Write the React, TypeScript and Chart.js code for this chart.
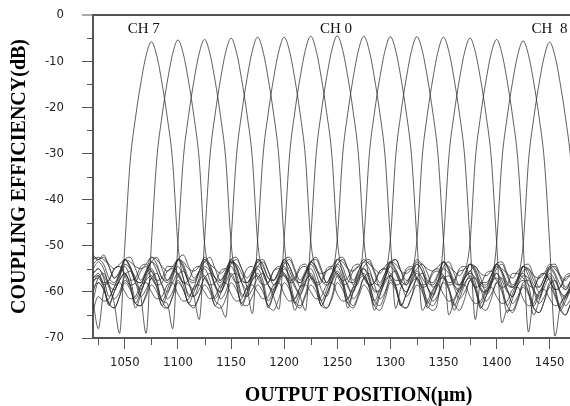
import { useEffect, useRef } from 'react';
import { Chart, registerables } from 'chart.js';

Chart.register(...registerables);

// x positions (µm)
const positions = [
  1020, 1025, 1030, 1035, 1040, 1045, 1050, 1055, 1060, 1065, 1070, 1075, 1080, 1085, 1090, 1095,
  1100, 1105, 1110, 1115, 1120, 1125, 1130, 1135, 1140, 1145, 1150, 1155, 1160, 1165, 1170, 1175,
  1180, 1185, 1190, 1195, 1200, 1205, 1210, 1215, 1220, 1225, 1230, 1235, 1240, 1245, 1250, 1255,
  1260, 1265, 1270, 1275, 1280, 1285, 1290, 1295, 1300, 1305, 1310, 1315, 1320, 1325, 1330, 1335,
  1340, 1345, 1350, 1355, 1360, 1365, 1370, 1375, 1380, 1385, 1390, 1395, 1400, 1405, 1410, 1415,
  1420, 1425, 1430, 1435, 1440, 1445, 1450, 1455, 1460, 1465, 1470, 1475, 1480,
];

const channelNames = [
  'CH 7', 'CH 6', 'CH 5', 'CH 4', 'CH 3', 'CH 2', 'CH 1', 'CH 0',
  'CH -1', 'CH -2', 'CH -3', 'CH -4', 'CH -5', 'CH -6', 'CH -7', 'CH -8',
];

const ch7 = [-56,
  -55, -56.5, -59, -62.5, -69,
  -49.8, -31.8, -22.3, -14.8, -8.8,
  -5.8, -8.8, -14.8, -22.3, -31.8,
  -49.8, -57, -60.5, -61, -58,
  -54.5, -55.5, -59, -60, -57.5,
  -53.5, -56, -60.5, -61, -57,
  -54.5, -55.5, -58.5, -59.5, -57.5,
  -55, -56.5, -59, -60.5, -58,
  -54, -56, -59.5, -61, -57.5,
  -54, -55.5, -59, -60, -57,
  -55, -56.5, -60, -59.5, -57,
  -54.5, -56, -58.5, -60, -57.5,
  -55.5, -57, -59, -61, -58,
  -55, -56, -58.5, -59.5, -57,
  -56, -57, -59.5, -60, -58.5,
  -56, -57.5, -60, -61, -58.5,
  -56.5, -57, -59.5, -61.5, -58,
  -56, -57.5, -60, -61, -59,
  -57, -58];

const ch6 = [-52,
  -53, -52.5, -54.5, -57, -56,
  -54, -55, -57, -61, -69,
  -49.4, -31.4, -21.9, -14.4, -8.4,
  -5.4, -8.4, -14.4, -21.9, -31.4,
  -49.4, -55, -57, -59, -56.5,
  -54, -53, -55, -58, -56.5,
  -54.5, -53.5, -55.5, -58.5, -57,
  -54, -53, -55.5, -59, -56.5,
  -53.5, -52.5, -55, -58, -56,
  -54, -53, -55, -58.5, -56.5,
  -54.5, -53.5, -56, -59, -57,
  -54, -53, -55.5, -58.5, -56.5,
  -55, -54, -56, -59, -57.5,
  -54.5, -53.5, -56, -58.5, -57,
  -55.5, -54.5, -57, -60, -58,
  -55, -54, -56.5, -59, -57.5,
  -55.5, -55, -57.5, -60, -58,
  -55, -54.5, -57, -59.5, -58,
  -56, -57];

const ch5 = [-58,
  -56.5, -59, -63, -60, -57.5,
  -56, -58.5, -63.5, -60.5, -57,
  -55.5, -58, -62, -62.5, -68,
  -49.3, -31.3, -21.8, -14.3, -8.3,
  -5.3, -8.3, -14.3, -21.8, -31.3,
  -49.3, -57.5, -63, -60.5, -57.5,
  -56, -58.5, -63.5, -60.5, -57,
  -56.5, -59, -64, -61, -58,
  -56, -58.5, -63, -60.5, -57.5,
  -55.5, -58, -63.5, -60, -57,
  -56, -59, -64, -61, -57.5,
  -56.5, -58.5, -63, -60.5, -58,
  -56, -58, -62.5, -60, -57.5,
  -57, -59.5, -64, -61.5, -58.5,
  -56.5, -59, -63.5, -61, -58,
  -57, -59.5, -64.5, -61.5, -58.5,
  -57.5, -60, -65, -62, -59,
  -57, -59.5, -64, -62, -59.5,
  -58.5, -60];

const ch4 = [-57.5,
  -57, -58.5, -57.5, -55, -54.5,
  -56, -57.5, -57, -54.5, -54,
  -55.5, -57.5, -57, -54.5, -54.5,
  -56, -58, -58.5, -61, -66,
  -49, -31, -21.5, -14, -8,
  -5, -8, -14, -21.5, -31,
  -49, -56, -58, -55.5, -54.5,
  -56, -57.5, -57, -54.5, -54,
  -56.5, -58, -57.5, -55, -54.5,
  -56, -57.5, -57, -54.5, -54,
  -56.5, -58.5, -58, -55.5, -55,
  -56, -57.5, -57.5, -55, -54.5,
  -57, -58.5, -58, -55.5, -55,
  -56.5, -58, -57.5, -55, -54.5,
  -57, -59, -58.5, -56, -55.5,
  -57.5, -59, -58.5, -56, -56,
  -57, -58.5, -59, -56.5, -56,
  -57.5, -59.5, -59, -57, -56.5,
  -57.5, -58.5];

const ch3 = [-62,
  -58, -59.5, -62.5, -63.5, -61,
  -57.5, -59, -62.5, -63, -60.5,
  -57, -59, -62, -63.5, -61,
  -57.5, -59.5, -62.5, -63, -61,
  -57, -59, -62, -63, -65.5,
  -48.8, -30.8, -21.3, -13.8, -7.8,
  -4.8, -7.8, -13.8, -21.3, -30.8,
  -48.8, -58.5, -62, -63, -60.5,
  -57, -58.5, -62, -63.5, -61,
  -56.5, -58, -61.5, -63, -60.5,
  -57, -58.5, -62, -63, -60.5,
  -57.5, -59, -62.5, -63.5, -61,
  -57, -59, -62, -63, -61,
  -58, -59.5, -62.5, -64, -61.5,
  -57.5, -59.5, -63, -64, -61.5,
  -58, -60, -63, -64.5, -62,
  -58.5, -60, -63.5, -64.5, -62,
  -58, -60.5, -63.5, -65, -62.5,
  -61, -62];

const ch2 = [-53,
  -52.5, -53, -54, -55, -54,
  -53, -53.5, -54.5, -55, -54,
  -52.5, -53, -54.5, -55.5, -54.5,
  -53, -53.5, -55, -55.5, -54.5,
  -53, -54, -55, -56, -55,
  -53.5, -54, -56, -59, -64.7,
  -48.8, -30.8, -21.3, -13.8, -7.8,
  -4.8, -7.8, -13.8, -21.3, -30.8,
  -48.8, -55, -56, -55.5, -54.5,
  -53, -53.5, -55, -55.5, -54.5,
  -53, -54, -55, -56, -54.5,
  -53.5, -54, -55.5, -56, -55,
  -53, -54, -55, -55.5, -54.5,
  -53.5, -54.5, -55.5, -56.5, -55,
  -54, -54.5, -56, -56.5, -55.5,
  -54, -55, -56, -57, -55.5,
  -54.5, -55, -56.5, -57, -56,
  -54, -55, -56.5, -57.5, -56,
  -55.5, -56];

const ch1 = [-60,
  -57, -56, -58.5, -61.5, -60,
  -56.5, -55.5, -58, -61, -59.5,
  -57, -56, -58.5, -61.5, -60,
  -56.5, -55.5, -58, -61, -59.5,
  -57, -56, -58.5, -61.5, -60,
  -56.5, -56, -58, -61, -59.5,
  -57, -56, -58.5, -61, -63.8,
  -48.6, -30.6, -21.1, -13.6, -7.6,
  -4.6, -7.6, -13.6, -21.1, -30.6,
  -48.6, -56, -58.5, -61.5, -60,
  -57, -56, -58.5, -61.5, -60,
  -56.5, -55.5, -58, -61, -59.5,
  -57, -56, -59, -62, -60.5,
  -57.5, -56.5, -59, -61.5, -60,
  -57.5, -57, -59.5, -62, -60.5,
  -58, -57, -59.5, -62.5, -61,
  -58, -57.5, -60, -62.5, -61,
  -58.5, -57.5, -60.5, -63, -61.5,
  -60, -61];

const ch0 = [-55,
  -53.5, -55, -58.5, -59.5, -57,
  -53, -55, -58, -59.5, -56.5,
  -53.5, -55.5, -58.5, -60, -57,
  -53, -55, -58, -59.5, -57,
  -53.5, -55, -58.5, -60, -57,
  -53, -55, -58, -59.5, -56.5,
  -53.5, -55.5, -58.5, -60, -57,
  -53.5, -55.5, -58.5, -61, -64,
  -48.5, -30.5, -21, -13.5, -7.5,
  -4.5, -7.5, -13.5, -21, -30.5,
  -48.5, -57, -59.5, -60, -57,
  -53.5, -55.5, -58.5, -60, -57,
  -54, -55.5, -59, -60.5, -57.5,
  -53.5, -55.5, -58.5, -60, -57,
  -54, -56, -59, -60.5, -57.5,
  -54.5, -56, -59.5, -61, -58,
  -54.5, -56.5, -59.5, -61, -58,
  -55, -56.5, -60, -61.5, -58.5,
  -56.5, -57.5];

const chM1 = [-54,
  -53, -54, -57, -58, -56,
  -53, -54.5, -57.5, -58, -56,
  -53.5, -54.5, -57, -58, -56,
  -53, -54, -57, -57.5, -55.5,
  -53, -54.5, -57, -58, -56,
  -53.5, -54.5, -57.5, -58, -56,
  -53, -54, -57, -57.5, -55.5,
  -53, -54.5, -57, -58, -56,
  -53.5, -54.5, -57.5, -58.5, -56.5,
  -48.6, -30.6, -21.1, -13.6, -7.6,
  -4.6, -7.6, -13.6, -21.1, -30.6,
  -48.6, -63.6, -59, -58, -56,
  -53.5, -54.5, -57.5, -58, -56,
  -53.5, -55, -57.5, -58.5, -56.5,
  -54, -55, -58, -58.5, -56.5,
  -54, -55.5, -58, -59, -57,
  -54.5, -55.5, -58.5, -59, -57,
  -54.5, -56, -58.5, -59.5, -57.5,
  -56, -57];

const chM2 = [-64,
  -61, -62, -61.5, -59, -58,
  -60, -61.5, -61, -58.5, -58,
  -60, -61.5, -61, -58.5, -58,
  -60.5, -62, -61.5, -59, -58.5,
  -60, -61.5, -61, -58.5, -58,
  -60.5, -62, -61.5, -59, -58.5,
  -60, -61.5, -61, -58.5, -58,
  -60.5, -62, -61.5, -59, -58.5,
  -60, -61.5, -61, -58.5, -58,
  -60.5, -62, -61.5, -59, -58,
  -48.7, -30.7, -21.2, -13.7, -7.7,
  -4.7, -7.7, -13.7, -21.2, -30.7,
  -48.7, -64, -62, -59.5, -58.5,
  -60.5, -62, -61.5, -59, -58.5,
  -61, -62.5, -62, -59.5, -59,
  -61, -62.5, -62, -59.5, -59,
  -61.5, -63, -62.5, -60, -59.5,
  -61.5, -63, -62.5, -60.5, -60,
  -62, -63];

const chM3 = [-56,
  -55, -57, -61, -59, -56.5,
  -54.5, -57, -61.5, -59, -56,
  -55, -57.5, -62, -59.5, -56.5,
  -54.5, -57, -61, -59, -56,
  -55, -57.5, -61.5, -59.5, -56.5,
  -54.5, -57, -61, -59, -56.5,
  -55, -57.5, -62, -59.5, -56.5,
  -54.5, -57, -61.5, -59, -56,
  -55, -57.5, -62, -59.5, -56.5,
  -54.5, -57, -61.5, -59, -56,
  -55, -57.5, -62, -59.5, -56.5,
  -48.7, -30.7, -21.2, -13.7, -7.7,
  -4.7, -7.7, -13.7, -21.2, -30.7,
  -48.7, -65, -62, -59.5, -57,
  -55.5, -58, -62.5, -60, -57.5,
  -56, -58.5, -63, -60.5, -57.5,
  -56, -58.5, -63, -60.5, -58,
  -56.5, -59, -63.5, -61, -58.5,
  -58, -59];

const chM4 = [-52.5,
  -53, -52, -54.5, -57, -55.5,
  -53, -52.5, -55, -57.5, -55.5,
  -53.5, -52.5, -55, -57.5, -56,
  -53, -52, -54.5, -57, -55.5,
  -53.5, -52.5, -55, -57.5, -56,
  -53, -52.5, -55, -57, -55.5,
  -53.5, -53, -55.5, -57.5, -56,
  -53, -52.5, -55, -57.5, -55.5,
  -53.5, -53, -55.5, -58, -56,
  -53, -52.5, -55, -57.5, -55.5,
  -53.5, -53, -55.5, -58, -56,
  -53.5, -53, -55.5, -57.5, -56,
  -48.8, -30.8, -21.3, -13.8, -7.8,
  -4.8, -7.8, -13.8, -21.3, -30.8,
  -48.8, -66, -58, -58, -56.5,
  -54, -53.5, -56, -58.5, -57,
  -54.5, -54, -56.5, -59, -57,
  -54.5, -54, -56.5, -59, -57.5,
  -55.5, -56];

const chM5 = [-59,
  -58, -59.5, -62.5, -63.5, -61,
  -58, -59.5, -62.5, -63, -61,
  -58.5, -60, -63, -63.5, -61,
  -58, -59.5, -62.5, -63.5, -61,
  -58.5, -60, -63, -63.5, -61.5,
  -58, -59.5, -62.5, -63, -61,
  -58.5, -60, -63, -64, -61.5,
  -58, -59.5, -62.5, -63.5, -61,
  -58.5, -60, -63, -63.5, -61.5,
  -58, -59.5, -62.5, -63.5, -61,
  -58.5, -60, -63, -64, -61.5,
  -58, -59.5, -63, -63.5, -61,
  -58.5, -60, -63, -64, -61.5,
  -49, -31, -21.5, -14, -8,
  -5, -8, -14, -21.5, -31,
  -49, -66.7, -64, -64, -61.5,
  -59, -60.5, -63.5, -64.5, -62,
  -59, -61, -64, -65, -62.5,
  -62, -63];

const chM6 = [-57,
  -56.5, -58, -57.5, -55, -54.5,
  -56.5, -58.5, -58, -55.5, -54.5,
  -57, -58.5, -58, -55.5, -55,
  -56.5, -58, -57.5, -55, -54.5,
  -57, -58.5, -58, -55.5, -55,
  -56.5, -58, -57.5, -55, -54.5,
  -57, -58.5, -58, -55.5, -55,
  -56.5, -58, -57.5, -55, -54.5,
  -57, -58.5, -58, -55.5, -55,
  -56.5, -58.5, -58, -55.5, -54.5,
  -57, -58.5, -58, -55.5, -55,
  -57, -58.5, -58, -55.5, -55,
  -57.5, -59, -58.5, -56, -55.5,
  -57, -58.5, -58, -55.5, -55,
  -49.3, -31.3, -21.8, -14.3, -8.3,
  -5.3, -8.3, -14.3, -21.8, -31.3,
  -49.3, -68.7, -60, -57, -56,
  -57.5, -59.5, -59, -56.5, -56,
  -58, -59];

const chM7 = [-57,
  -56, -58.5, -62.5, -60, -57.5,
  -56, -58.5, -62.5, -60, -57.5,
  -56.5, -59, -63, -60.5, -58,
  -56, -58.5, -62.5, -60, -57.5,
  -56.5, -59, -63, -60.5, -58,
  -56, -58.5, -62.5, -60, -57.5,
  -56.5, -59, -63, -60.5, -58,
  -56, -58.5, -62.5, -60, -57.5,
  -56.5, -59, -63, -60.5, -58,
  -56, -58.5, -62.5, -60, -57.5,
  -56.5, -59, -63, -60.5, -58,
  -56.5, -59, -63, -60.5, -58,
  -57, -59.5, -63.5, -61, -58.5,
  -56.5, -59, -63, -60.5, -58,
  -57, -59.5, -63.5, -61, -58.5,
  -49.6, -31.6, -22.1, -14.6, -8.6,
  -5.6, -8.6, -14.6, -22.1, -31.6,
  -49.6, -69.6, -63, -61, -59,
  -58, -59.5];

const chM8 = [-62,
  -68, -60, -58, -58.5, -56,
  -53, -54.5, -57.5, -58, -55.5,
  -52.5, -54, -57, -57.5, -55.5,
  -53, -54.5, -57.5, -58, -55.5,
  -52.5, -54, -57, -57.5, -55.5,
  -53, -54.5, -57.5, -58, -56,
  -53, -54.5, -57, -57.5, -55.5,
  -53, -54.5, -57.5, -58, -56,
  -53.5, -55, -57.5, -58, -56,
  -53, -54.5, -57.5, -58, -55.5,
  -53.5, -55, -58, -58.5, -56,
  -53.5, -55, -57.5, -58.5, -56,
  -54, -55.5, -58, -58.5, -56.5,
  -53.5, -55, -58, -58.5, -56,
  -54, -55.5, -58.5, -59, -56.5,
  -54, -55.5, -58.5, -59, -57,
  -49.9, -31.9, -22.4, -14.9, -8.9,
  -5.9, -8.9, -14.9, -22.4, -31.9,
  -49.9, -66];

const seriesValues = [ch7, ch6, ch5, ch4, ch3, ch2, ch1, ch0, chM1, chM2, chM3, chM4, chM5, chM6, chM7, chM8];

const xMajorTicks = [1050, 1100, 1150, 1200, 1250, 1300, 1350, 1400, 1450, 1500];
const xMinorTicks = [1025, 1075, 1125, 1175, 1225, 1275, 1325, 1375, 1425, 1475];
const yMajorTicks = [0, -10, -20, -30, -40, -50, -60, -70];
const yMinorTicks = [-5, -15, -25, -35, -45, -55, -65];

const channelLabels = [
  { text: 'CH 7', x: 1052.7, y: -4 },
  { text: 'CH 0', x: 1233.7, y: -3.8 },
  { text: 'CH  8', x: 1433, y: -4 },
];

const AXIS_COLOR = '#555';
const LINE_COLOR = 'rgba(45,45,45,0.85)';
const TICK_FONT = '"Liberation Sans Narrow", "DejaVu Sans Condensed", "Liberation Sans", Arial, sans-serif';
const SERIF = '"Liberation Serif", "Times New Roman", serif';

const minorTicksPlugin = {
  id: 'minorTicks',
  afterDraw(chart: any) {
    const { ctx, chartArea } = chart;
    const xs = chart.scales.x;
    const ys = chart.scales.y;
    ctx.save();
    ctx.strokeStyle = AXIS_COLOR;
    ctx.lineWidth = 1;
    ctx.beginPath();
    xMinorTicks.forEach((v) => {
      const px = Math.round(xs.getPixelForValue(v)) + 0.5;
      ctx.moveTo(px, chartArea.bottom);
      ctx.lineTo(px, chartArea.bottom + 7);
    });
    yMinorTicks.forEach((v) => {
      const py = Math.round(ys.getPixelForValue(v)) + 0.5;
      ctx.moveTo(chartArea.left - 6, py);
      ctx.lineTo(chartArea.left, py);
    });
    ctx.stroke();
    ctx.restore();
  },
};

const channelLabelPlugin = {
  id: 'channelLabels',
  afterDraw(chart: any) {
    const { ctx } = chart;
    const xs = chart.scales.x;
    const ys = chart.scales.y;
    ctx.save();
    ctx.fillStyle = '#111';
    ctx.font = `15px ${SERIF}`;
    ctx.textAlign = 'left';
    ctx.textBaseline = 'alphabetic';
    channelLabels.forEach((l) => {
      ctx.fillText(l.text, xs.getPixelForValue(l.x), ys.getPixelForValue(l.y));
    });
    ctx.restore();
  },
};

export default function App() {
  const canvasRef = useRef<HTMLCanvasElement | null>(null);

  useEffect(() => {
    seriesValues.forEach((s, k) => {
      if (s.length !== positions.length) {
        throw new Error(`series ${channelNames[k]} has ${s.length} values, expected ${positions.length}`);
      }
    });
    const canvas = canvasRef.current;
    if (!canvas) return;
    const chart = new Chart(canvas, {
      type: 'line',
      data: {
        datasets: seriesValues.map((vals, k) => ({
          label: channelNames[k],
          data: positions.map((x, i) => ({ x, y: vals[i] })),
          borderColor: LINE_COLOR,
          borderWidth: 0.9,
          pointRadius: 0,
          fill: false,
          cubicInterpolationMode: 'monotone' as const,
        })),
      },
      options: {
        responsive: true,
        maintainAspectRatio: false,
        animation: false,
        layout: { padding: { top: 15, left: 0, right: 0, bottom: 0 } },
        plugins: {
          legend: { display: false },
          tooltip: { enabled: false },
        },
        scales: {
          x: {
            type: 'linear',
            min: 1020,
            max: 1520,
            afterBuildTicks: (s: any) => {
              s.ticks = xMajorTicks.map((v) => ({ value: v }));
            },
            afterFit: (s: any) => {
              s.height = 68;
              s.paddingLeft = 0;
              s.paddingRight = 0;
            },
            grid: {
              drawOnChartArea: false,
              drawTicks: true,
              tickLength: 11,
              tickColor: AXIS_COLOR,
              tickWidth: 1,
            },
            border: { display: true, color: AXIS_COLOR, width: 2 },
            ticks: {
              autoSkip: false,
              maxRotation: 0,
              padding: 6,
              color: '#222',
              font: { family: TICK_FONT, size: 13 },
              callback: (v: any) => String(v),
            },
            title: {
              display: true,
              text: 'OUTPUT POSITION(µm)',
              color: '#000',
              font: { family: SERIF, size: 20, weight: 'bold', lineHeight: 1 },
              padding: { top: 0, bottom: 0 },
            },
          },
          y: {
            type: 'linear',
            min: -70,
            max: 0,
            afterBuildTicks: (s: any) => {
              s.ticks = yMajorTicks.map((v) => ({ value: v }));
            },
            afterFit: (s: any) => {
              s.width = 93;
              s.paddingTop = 0;
              s.paddingBottom = 0;
            },
            grid: {
              drawOnChartArea: true,
              color: (c: any) => (c.tick && c.tick.value === 0 ? AXIS_COLOR : 'rgba(0,0,0,0)'),
              lineWidth: (c: any) => (c.tick && c.tick.value === 0 ? 2 : 1),
              tickLength: 11,
              tickColor: AXIS_COLOR,
              tickWidth: 1,
            },
            border: { display: true, color: AXIS_COLOR, width: 2 },
            ticks: {
              padding: 18,
              color: '#222',
              font: { family: TICK_FONT, size: 13 },
              callback: (v: any) => String(v),
            },
            title: {
              display: true,
              text: 'COUPLING EFFICIENCY(dB)',
              color: '#000',
              font: { family: SERIF, size: 20, weight: 'bold', lineHeight: 1 },
              padding: { top: 10, bottom: 0 },
            },
          },
        },
      },
      plugins: [minorTicksPlugin, channelLabelPlugin],
    } as any);
    return () => chart.destroy();
  }, []);

  return (
    <div
      style={{
        position: 'fixed',
        left: 0,
        top: 0,
        width: 570,
        height: 406,
        overflow: 'hidden',
        background: '#fff',
      }}
    >
      <div style={{ position: 'relative', width: 624, height: 406 }}>
        <canvas ref={canvasRef} />
      </div>
    </div>
  );
}
